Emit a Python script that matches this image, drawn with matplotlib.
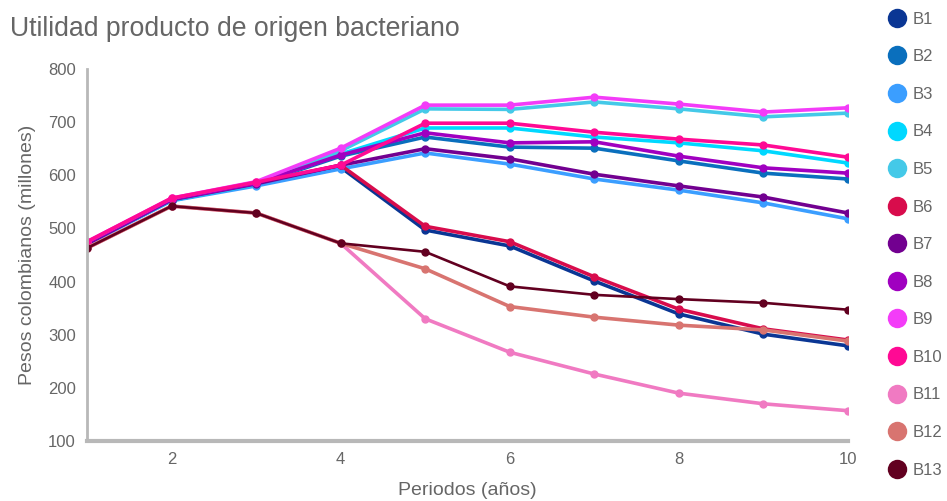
import matplotlib
matplotlib.use("Agg")
import matplotlib.pyplot as plt
from matplotlib.lines import Line2D

plt.rcParams['font.family'] = ['Liberation Sans', 'DejaVu Sans']

periods = [1, 2, 3, 4, 5, 6, 7, 8, 9, 10]
series_names = ["B1", "B2", "B3", "B4", "B5", "B6", "B7", "B8", "B9", "B10", "B11", "B12", "B13"]
colors = ["#0a3694", "#0a6fbd", "#3b9eff", "#00d8ff", "#44c9e8", "#d80c4c", "#720090",
          "#a000c0", "#f33cf8", "#ff0a94", "#f07ac2", "#d87470", "#620020"]

B1 = [472, 553, 582, 615, 497, 467, 401, 339, 301, 279]
B2 = [472, 553, 583, 636, 672, 653, 651, 627, 604, 593]
B3 = [470, 552, 580, 612, 642, 621, 593, 572, 548, 518]
B4 = [472, 553, 583, 640, 689, 689, 672, 661, 646, 623]
B5 = [473, 554, 584, 646, 725, 724, 738, 725, 710, 717]
B6 = [474, 556, 586, 619, 504, 475, 409, 348, 311, 290]
B7 = [471, 554, 584, 619, 650, 631, 602, 580, 559, 529]
B8 = [473, 555, 585, 638, 680, 661, 663, 636, 614, 604]
B9 = [475, 557, 588, 651, 732, 732, 747, 734, 719, 727]
B10 = [475, 557, 587, 619, 698, 698, 681, 668, 657, 634]
B11 = [463, 542, 529, 472, 330, 267, 226, 190, 170, 157]
B12 = [463, 542, 529, 472, 424, 353, 333, 318, 309, 288]
B13 = [463, 542, 529, 472, 456, 391, 375, 367, 360, 347]

data = [B1, B2, B3, B4, B5, B6, B7, B8, B9, B10, B11, B12, B13]

fig = plt.figure(figsize=(9.47, 5.01), dpi=100)
ax = fig.add_axes([87/947, 1-441/501, (848-87)/947, (441-69)/501])

gray = "#666666"
for name, vals, c in zip(series_names, data, colors):
    lw = 1.9 if name == "B13" else 2.6
    ax.plot(periods, vals, color=c, lw=lw, marker='o', markersize=5, label=name,
            solid_joinstyle='round', zorder=3)

ax.set_xlim(1, 10)
ax.set_ylim(100, 800)
ax.set_xticks([2, 4, 6, 8, 10])
ax.set_yticks(range(100, 801, 100))
ax.tick_params(axis='both', length=0, labelsize=12, labelcolor=gray, pad=8)
for s in ['top', 'right']:
    ax.spines[s].set_visible(False)
ax.spines['left'].set_color('#b8b8b8')
ax.spines['left'].set_linewidth(2)
ax.spines['bottom'].set_color('#b8b8b8')
ax.spines['bottom'].set_linewidth(3)
for sp in ['left', 'bottom']:
    ax.spines[sp].set_zorder(5)

ax.set_xlabel("Periodos (años)", fontsize=14, color=gray, labelpad=11)
ax.set_ylabel("Pesos colombianos (millones)", fontsize=14, color=gray, labelpad=9)

fig.text(10/947, 1-29/501, "Utilidad producto de origen bacteriano", fontsize=19.2,
         color=gray, va='center', ha='left')

handles = [Line2D([], [], marker='o', ls='none', markersize=14, color=c, markeredgewidth=0)
           for c in colors]
leg = fig.legend(handles, series_names, loc='upper left', bbox_to_anchor=(878/947, 1-5/501),
                 frameon=False, fontsize=12, labelspacing=1.355, handletextpad=0.2,
                 handlelength=1.5, borderaxespad=0)
for t in leg.get_texts():
    t.set_color(gray)

fig.savefig("out.png", dpi=100)
